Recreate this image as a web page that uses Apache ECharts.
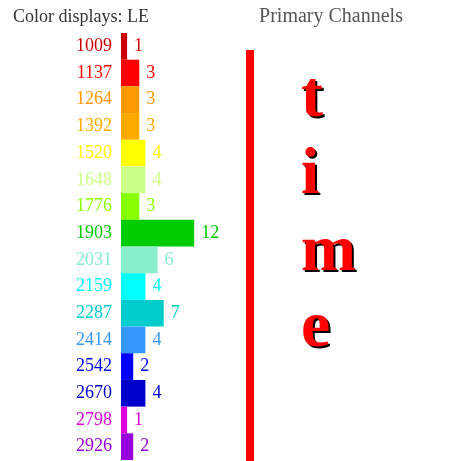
<!DOCTYPE html>
<html><head><meta charset="utf-8">
<script src="https://cdn.jsdelivr.net/npm/echarts@6/dist/echarts.min.js"></script>
<style>html,body{margin:0;padding:0;background:#fff}#c{width:474px;height:461px}</style>
</head><body><div id="c"></div>
<script>
var categories = ['1009','1137','1264','1392','1520','1648','1776','1903','2031','2159','2287','2414','2542','2670','2798','2926'];
var values = [1,3,3,3,4,4,3,12,6,4,7,4,2,4,1,2];
var colors = ['#cc0000','#ff0000','#ff9900','#ffaa00','#ffff00','#ccff88','#88ff00','#00cc00','#88eecc','#00ffff','#00cccc','#3399ff','#0000ff','#0000cc','#dd00dd','#9900dd'];
var labelColors = ['#cc0000','#ff0000','#ff9900','#ffaa00','#ffff00','#ccff88','#88ff00','#00cc00','#88eecc','#00ffff','#00cccc','#3399ff','#0000ff','#0000cc','#dd00dd','#9900dd'];
var titleText = 'Color displays: LE';
var panelTitle = 'Primary Channels';
var letters = ['t','i','m','e'];

var font = '"Liberation Serif", "Times New Roman", serif';
var chart = echarts.init(document.getElementById('c'));
var graphics = [
  {type:'rect', shape:{x:246, y:50, width:8, height:411}, style:{fill:'#ff0000'}}
];
var tops = [66,143,220,296];
letters.forEach(function(l,i){
  graphics.push({type:'text', x:303, y:tops[i]+2, style:{text:l, font:'bold 66px ' + font, fill:'#000'}});
  graphics.push({type:'text', x:301, y:tops[i], style:{text:l, font:'bold 66px ' + font, fill:'#ff0000'}});
});
graphics.push({type:'text', x:331, y:17, style:{text:panelTitle, font:'20px ' + font, fill:'#555', textAlign:'center', textVerticalAlign:'middle'}});

chart.setOption({
  animation:false,
  title:{text:titleText, left:13, top:8, textStyle:{fontFamily:font, fontSize:18, fontWeight:'normal', color:'#333'}, padding:0},
  grid:{left:121, top:33, width:122, height:427},
  xAxis:{type:'value', min:0, max:20, show:false},
  yAxis:{type:'category', inverse:true, data:categories,
    axisLine:{show:false}, axisTick:{show:false}, splitLine:{show:false},
    axisLabel:{margin:9, fontFamily:font, fontSize:18, color:function(v,i){return labelColors[categories.indexOf(v)];}}},
  series:[{type:'bar', barCategoryGap:'0%',
    data:values.map(function(v,i){return {value:v, itemStyle:{color:colors[i]}, label:{color:labelColors[i]}};}),
    label:{show:true, position:'right', distance:7, fontFamily:font, fontSize:18}
  }],
  graphic:graphics
});
</script></body></html>
